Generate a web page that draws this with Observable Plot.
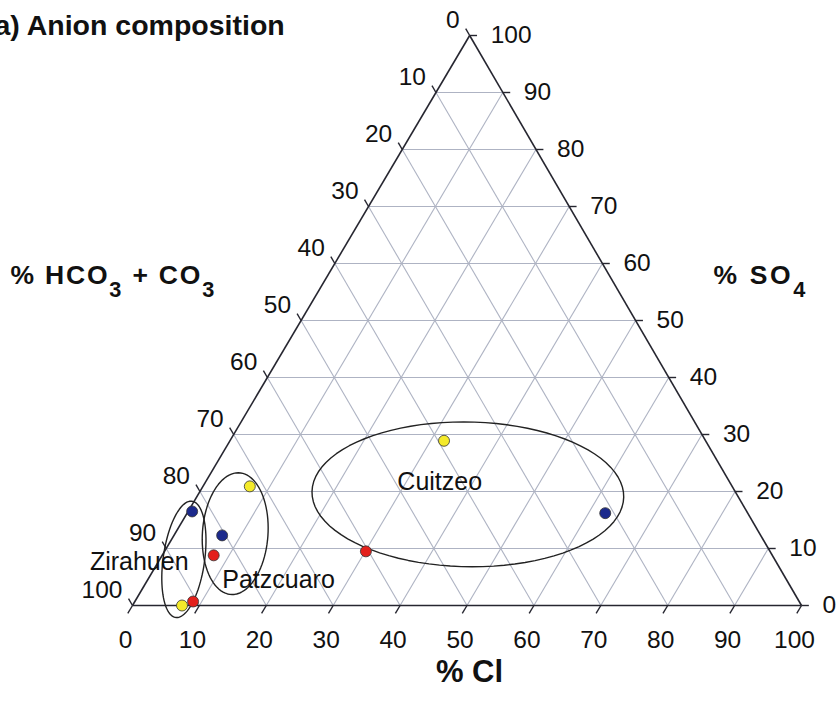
<!DOCTYPE html>
<html>
<head>
<meta charset="utf-8">
<script src="https://cdn.jsdelivr.net/npm/d3@7"></script>
<script src="https://cdn.jsdelivr.net/npm/@observablehq/plot@0.6"></script>
<style>
  html, body { margin: 0; padding: 0; background: #fff; }
  svg { display: block; }
</style>
</head>
<body>
<div id="chart"></div>
<script>
// ---------- data ----------
const ticks = [0, 10, 20, 30, 40, 50, 60, 70, 80, 90, 100];
const tickLabels = ["0", "10", "20", "30", "40", "50", "60", "70", "80", "90", "100"];

// samples: % Cl, % SO4 (remainder = % HCO3 + CO3)
const sampleLake  = ["Zirahuen", "Zirahuen", "Zirahuen", "Patzcuaro", "Patzcuaro", "Patzcuaro", "Cuitzeo", "Cuitzeo", "Cuitzeo"];
const sampleColor = ["#f4ea2a", "#e3201c", "#1c2a8c", "#f4ea2a", "#1c2a8c", "#e3201c", "#f4ea2a", "#1c2a8c", "#e3201c"];
const sampleCl    = [7.4, 8.7, 0.6, 7.0, 7.2, 7.7, 32.0, 62.5, 30.1];
const sampleSO4   = [0.0, 0.7, 16.5, 20.9, 12.3, 8.8, 28.9, 16.2, 9.5];

// lake group ellipses (centre in %Cl / %SO4, semi-axes in axis units, tilt in degrees)
const lakeNames = ["Zirahuen", "Patzcuaro", "Cuitzeo"];
const ellCl     = [3.6, 9.0, 40.3];
const ellSO4    = [8.1, 12.6, 19.5];
const ellA      = [3.1, 4.9, 23.3];
const ellB      = [10.3, 10.7, 12.7];
const ellTilt   = [8, 4, 1];

// lake label anchors (%Cl, %SO4)
const lakeLabelCl  = [4.5, 11.2, 28.7];
const lakeLabelSO4 = [7.7, 4.4, 21.6];
const lakeLabelAnchor = ["end", "start", "start"];

const titleText = "a) Anion composition";
const leftAxisTitle = "% HCO3 + CO3";
const rightAxisTitle = "% SO4";
const bottomAxisTitle = "% Cl";

// ---------- ternary helpers ----------
const K = 0.504;                       // apex horizontal position
const X = (cl, so4) => cl + so4 * K;   // x in plot units
const XR = [132, 801], YR = [605, 35];
const sx = (XR[1] - XR[0]) / 100, sy = (YR[0] - YR[1]) / 100;

// grid segments
const inner = ticks.filter(t => t > 0 && t < 100);
const grid = [];
for (const c of inner) grid.push({x1: X(c, 0), y1: 0, x2: X(c, 100 - c), y2: 100 - c});       // const Cl
for (const s of inner) grid.push({x1: X(0, s), y1: s, x2: X(100 - s, s), y2: s});             // const SO4
for (const h of inner) grid.push({x1: X(100 - h, 0), y1: 0, x2: X(0, 100 - h), y2: 100 - h}); // const HCO3

const edges = [
  {x1: X(0, 0), y1: 0, x2: X(100, 0), y2: 0},
  {x1: X(100, 0), y1: 0, x2: X(0, 100), y2: 100},
  {x1: X(0, 100), y1: 100, x2: X(0, 0), y2: 0}
];

// ticks (outward)
const tb = 1.4, tr = 1.1, tl = 1.2;
const tickSegs = [];
for (const c of ticks) tickSegs.push({x1: X(c, 0), y1: 0, x2: X(c, -tb), y2: -tb});
for (const s of ticks) tickSegs.push({x1: X(100 - s, s), y1: s, x2: X(100 - s + tr, s), y2: s});
for (const h of ticks) tickSegs.push({x1: X(0, 100 - h), y1: 100 - h, x2: X(-tl, 100 - h + tl), y2: 100 - h + tl});

// ellipse outlines
const ellPts = [];
lakeNames.forEach((name, i) => {
  const th = ellTilt[i] * Math.PI / 180;
  const cx = X(ellCl[i], ellSO4[i]), cy = ellSO4[i];
  for (let k = 0; k < 90; k++) {
    const t = 2 * Math.PI * k / 90;
    const px = ellA[i] * sx * Math.cos(t), py = ellB[i] * sy * Math.sin(t);
    const qx = px * Math.cos(th) + py * Math.sin(th);
    const qy = -px * Math.sin(th) + py * Math.cos(th);
    ellPts.push({lake: name, x: cx + qx / sx, y: cy + qy / sy});
  }
});

const idx = d3.range(sampleCl.length);
const lakeIdx = d3.range(lakeNames.length);
const font = "'Liberation Sans', Arial, Helvetica, sans-serif";
const ink = "#111";

const lakeLabelMark = anchor => Plot.text(lakeIdx.filter(i => lakeLabelAnchor[i] === anchor), {
  x: i => X(lakeLabelCl[i], lakeLabelSO4[i]), y: i => lakeLabelSO4[i], text: i => lakeNames[i],
  textAnchor: anchor, fontSize: 25, fill: ink
});

const chart = Plot.plot({
  width: 839,
  height: 714,
  margin: 0,
  x: {domain: [0, 100], range: XR, axis: null},
  y: {domain: [0, 100], range: YR, axis: null},
  color: {type: "identity"},
  style: {fontFamily: font, background: "#fff", overflow: "visible"},
  marks: [
    Plot.link(grid, {x1: "x1", y1: "y1", x2: "x2", y2: "y2", stroke: "#aeb3c3", strokeWidth: 1.1}),
    Plot.link(edges, {x1: "x1", y1: "y1", x2: "x2", y2: "y2", stroke: "#262630", strokeWidth: 1.6}),
    Plot.link(tickSegs, {x1: "x1", y1: "y1", x2: "x2", y2: "y2", stroke: "#262630", strokeWidth: 1.4}),
    Plot.line(ellPts, {x: "x", y: "y", z: "lake", curve: "linear-closed", stroke: "#222", strokeWidth: 1.4}),
    Plot.dot(idx, {x: i => X(sampleCl[i], sampleSO4[i]), y: i => sampleSO4[i], fill: i => sampleColor[i], r: 5.5, stroke: "#333", strokeWidth: 0.8}),
    // tick labels
    Plot.text(ticks, {x: c => X(c, 0), y: 0, text: (c, i) => tickLabels[i], dx: -7, dy: 35, fontSize: 24.5, fill: ink}),
    Plot.text(ticks, {x: s => X(100 - s, s), y: s => s, text: (s, i) => tickLabels[i], dx: 21, textAnchor: "start", fontSize: 24.5, fill: ink}),
    Plot.text(ticks, {x: h => X(0, 100 - h), y: h => 100 - h, text: (h, i) => tickLabels[i], dx: -10, dy: -15, textAnchor: "end", fontSize: 24.5, fill: ink}),
    // lake labels
    lakeLabelMark("start"),
    lakeLabelMark("end"),
    // titles
    Plot.text([titleText], {frameAnchor: "top-left", dx: -6, dy: 34, lineAnchor: "bottom", textAnchor: "start", fontSize: 28.5, fontWeight: "bold", fill: ink}),
    Plot.text([leftAxisTitle], {frameAnchor: "top-left", dx: 10, dy: 283, lineAnchor: "bottom", textAnchor: "start", fontSize: 26.5, fontWeight: "bold", fill: ink, className: "sub-hco3"}),
    Plot.text([rightAxisTitle], {frameAnchor: "top-left", dx: 713, dy: 283, lineAnchor: "bottom", textAnchor: "start", fontSize: 26.5, fontWeight: "bold", fill: ink, className: "sub-so4"}),
    Plot.text([bottomAxisTitle], {frameAnchor: "top-left", dx: 469, dy: 681, lineAnchor: "bottom", textAnchor: "middle", fontSize: 31, fontWeight: "bold", fill: ink})
  ]
});

document.getElementById("chart").appendChild(chart);

// subscripts and spacing in axis titles
function subscript(selector, parts, spacing) {
  d3.select(chart).selectAll(selector + " text").each(function () {
    const t = d3.select(this);
    t.text(null).style("letter-spacing", spacing + "px");
    let shifted = false;
    for (const [str, isSub] of parts) {
      const ts = t.append("tspan").text(str);
      if (isSub && !shifted) { ts.attr("dy", 13).attr("font-size", "82%"); shifted = true; }
      else if (!isSub && shifted) { ts.attr("dy", -13); shifted = false; }
    }
  });
}
subscript(".sub-hco3", [["% HCO", false], ["3", true], [" + CO", false], ["3", true]], 1.8);
subscript(".sub-so4", [["% SO", false], ["4", true]], 2.6);
</script>
</body>
</html>
